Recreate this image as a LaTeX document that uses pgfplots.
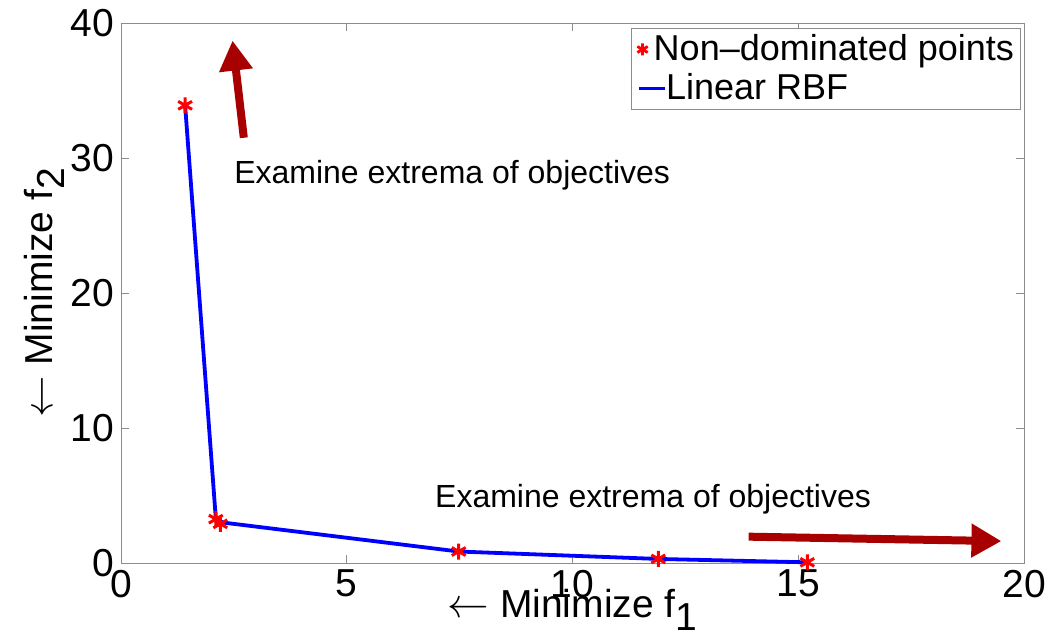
\documentclass[border=0pt]{standalone}
\usepackage{fontspec}
\setmainfont{Liberation Sans}
\usepackage{pgfplots}
\pgfplotsset{compat=1.18}
\usetikzlibrary{arrows.meta}
\definecolor{arrred}{RGB}{168,0,0}
\definecolor{axgray}{RGB}{140,140,140}
\begin{document}
\begin{tikzpicture}
\begin{axis}[
  scale only axis,
  width=451.5pt, height=270pt,
  xmin=0, xmax=20, ymin=0, ymax=40,
  xtick={0,5,10,15,20}, ytick={0,10,20,30,40},
  tick align=inside,
  major tick length=4pt,
  axis line style={axgray},
  every tick/.style={axgray},
  tick label style={font=\fontsize{19.5}{21}\selectfont},
  /pgf/number format/assume math mode=true,
  xlabel={$\leftarrow$ Minimize f\raisebox{-0.6ex}{1}},
  ylabel={$\leftarrow$ Minimize f\raisebox{-0.6ex}{2}},
  label style={font=\fontsize{19.5}{21}\selectfont},
  xlabel style={yshift=11pt},
  ylabel style={yshift=-4pt},
  legend style={at={(0.996,0.99)}, anchor=north east, draw=axgray,
    font=\fontsize{18}{20}\selectfont, inner sep=1pt, row sep=1pt},
  legend cell align=left,
  legend image code/.code={},
  clip=false,
]
\addplot[only marks, mark=asterisk, mark size=4pt, red, line width=1.5pt]
  coordinates {(1.42,33.9) (2.1,3.25) (2.2,2.9) (7.48,0.85) (11.9,0.3) (15.2,0.05)};
\addlegendentry{\tikz[baseline=-0.6ex]\draw[red,line width=1.4pt] plot[mark=asterisk,mark size=3pt] coordinates {(0,0)};\,Non--dominated points}
\addplot[blue, line width=1.9pt]
  coordinates {(1.42,33.9) (2.1,3.3) (2.25,3.0) (7.48,0.85) (11.9,0.3) (15.2,0.05)};
\addlegendentry{\tikz[baseline=-0.6ex]\draw[blue,line width=1.4pt] (0,0)--(13pt,0);Linear RBF}
\draw[arrred, line width=4pt, -{Triangle[width=16pt,length=15pt]}] (axis cs:2.72,31.5) -- (axis cs:2.47,38.7);
\draw[arrred, line width=4pt, -{Triangle[width=16pt,length=15pt]}] (axis cs:13.9,1.95) -- (axis cs:19.5,1.62);
\node[anchor=west, font=\fontsize{16}{18}\selectfont, inner sep=0pt] at (axis cs:2.5,28.7) {Examine extrema of objectives};
\node[anchor=west, font=\fontsize{16}{18}\selectfont, inner sep=0pt] at (axis cs:6.95,4.7) {Examine extrema of objectives};
\end{axis}
\path (current axis.south west) ++(-60.5pt,-38.5pt) rectangle ++(532pt,320pt);
\end{tikzpicture}
\end{document}
